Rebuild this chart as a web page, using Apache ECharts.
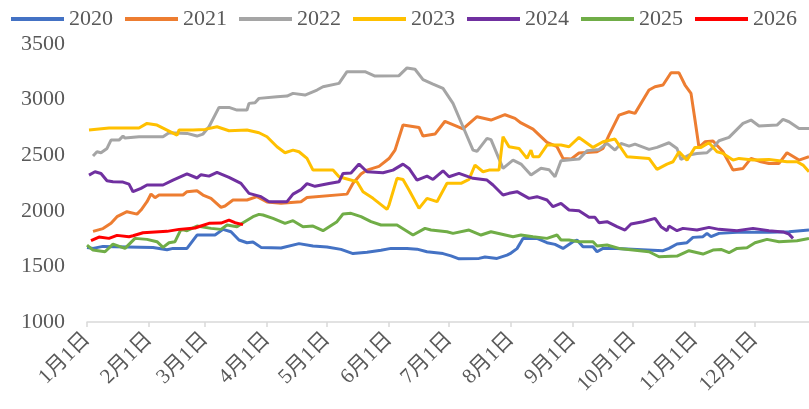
<!DOCTYPE html>
<html>
<head>
<meta charset="utf-8">
<script src="https://cdn.jsdelivr.net/npm/echarts@6/dist/echarts.min.js"></script>
<style>html,body{margin:0;padding:0;background:#fff}#c{width:809px;height:409px}</style>
</head>
<body>
<div id="c"></div>
<script>
// x = day of year (0 = 1月1日)
var monthStarts = [0, 31, 59, 90, 120, 151, 181, 212, 243, 273, 304, 334];
var monthLabels = ['1月1日','2月1日','3月1日','4月1日','5月1日','6月1日','7月1日','8月1日','9月1日','10月1日','11月1日','12月1日'];
var yTicks = [1000, 1500, 2000, 2500, 3000, 3500];
var seriesNames = ['2020','2021','2022','2023','2024','2025','2026'];
var seriesColors = ['#4472C4','#ED7D31','#A5A5A5','#FFC000','#7030A0','#70AD47','#FF0000'];

var s2020 = [[0,1670],[3,1662],[8,1680],[20,1675],[33,1670],[40,1650],[43,1662],[50,1662],[55,1782],[64,1782],[68,1833],[72,1812],[76,1737],[80,1713],[83,1720],[87,1671],[97,1665],[106,1705],[113,1683],[120,1675],[127,1653],[133,1615],[140,1628],[147,1645],[152,1662],[160,1660],[165,1655],[170,1632],[178,1615],[182,1595],[186,1568],[196,1572],[199,1585],[205,1572],[210,1602],[212,1620],[215,1660],[218,1750],[225,1752],[230,1713],[234,1698],[238,1662],[243,1722],[245,1737],[248,1677],[253,1677],[255,1632],[258,1662],[265,1662],[275,1653],[288,1641],[291,1662],[295,1701],[300,1713],[303,1761],[308,1767],[310,1797],[312,1767],[316,1797],[325,1806],[341,1806],[351,1812],[361,1827]];
var s2021 = [[3,1815],[8,1840],[12,1887],[15,1947],[20,1992],[25,1970],[27,2007],[30,2082],[32,2151],[34,2118],[36,2142],[48,2142],[50,2172],[55,2181],[58,2142],[62,2112],[67,2031],[69,2043],[73,2097],[80,2097],[85,2127],[90,2080],[97,2067],[107,2082],[110,2120],[130,2150],[133,2247],[137,2330],[140,2366],[146,2400],[151,2470],[154,2546],[158,2771],[166,2750],[168,2672],[174,2690],[179,2805],[188,2737],[195,2846],[202,2816],[209,2864],[214,2831],[217,2790],[223,2735],[230,2615],[235,2576],[238,2471],[242,2465],[246,2520],[255,2531],[258,2561],[261,2681],[266,2861],[271,2891],[274,2876],[281,3086],[284,3116],[288,3131],[292,3241],[296,3241],[299,3131],[302,3056],[304,2816],[306,2570],[309,2621],[313,2627],[318,2531],[323,2366],[328,2381],[332,2471],[337,2441],[341,2426],[346,2426],[350,2522],[356,2456],[361,2486]];
var s2022 = [[3,2492],[5,2531],[7,2522],[10,2561],[12,2636],[16,2636],[18,2672],[19,2654],[26,2666],[38,2666],[41,2702],[50,2696],[55,2672],[58,2690],[61,2756],[66,2930],[71,2930],[75,2906],[80,2906],[81,2966],[84,2972],[86,3011],[95,3026],[100,3032],[103,3056],[109,3041],[115,3086],[118,3116],[126,3146],[130,3251],[139,3251],[144,3212],[156,3215],[160,3285],[164,3273],[168,3180],[173,3140],[178,3101],[183,2966],[188,2756],[193,2546],[195,2535],[200,2651],[202,2640],[208,2382],[213,2456],[217,2420],[222,2321],[227,2382],[231,2370],[234,2306],[237,2450],[243,2462],[246,2465],[250,2540],[256,2552],[260,2606],[264,2546],[267,2606],[271,2582],[274,2600],[281,2552],[285,2570],[291,2612],[295,2561],[297,2462],[301,2501],[305,2516],[310,2522],[313,2570],[316,2630],[321,2660],[328,2786],[332,2816],[336,2762],[345,2771],[348,2822],[351,2801],[356,2741],[361,2741]];
var s2023 = [[1,2726],[6,2735],[11,2744],[26,2744],[30,2786],[35,2771],[40,2726],[45,2681],[46,2726],[53,2726],[59,2732],[65,2756],[71,2720],[80,2726],[86,2702],[90,2666],[95,2576],[99,2522],[103,2546],[106,2531],[110,2471],[113,2366],[123,2366],[126,2306],[135,2261],[138,2172],[143,2112],[150,2013],[151,2052],[155,2292],[158,2282],[161,2187],[166,2022],[170,2112],[175,2082],[180,2247],[187,2247],[191,2283],[194,2411],[198,2351],[201,2366],[206,2366],[208,2666],[211,2576],[216,2561],[220,2471],[222,2546],[223,2486],[226,2486],[230,2591],[237,2591],[241,2576],[246,2660],[253,2570],[258,2621],[264,2645],[270,2486],[281,2471],[285,2372],[290,2420],[293,2441],[296,2531],[300,2456],[304,2570],[307,2570],[311,2612],[315,2531],[318,2516],[323,2456],[326,2471],[333,2456],[341,2462],[350,2441],[355,2441],[358,2411],[361,2351]];
var s2024 = [[1,2321],[4,2351],[7,2336],[10,2270],[13,2261],[18,2258],[21,2240],[23,2172],[27,2202],[30,2232],[38,2232],[43,2276],[50,2333],[55,2295],[57,2325],[61,2312],[65,2346],[71,2300],[77,2247],[81,2157],[87,2127],[91,2082],[100,2082],[103,2150],[107,2190],[110,2244],[114,2220],[121,2246],[126,2261],[128,2336],[132,2340],[136,2420],[140,2351],[148,2342],[153,2366],[158,2420],[161,2381],[165,2276],[170,2312],[173,2282],[178,2360],[181,2306],[186,2336],[193,2292],[200,2276],[203,2232],[208,2142],[211,2157],[215,2172],[221,2112],[225,2127],[230,2097],[233,2037],[237,2067],[241,2007],[246,2001],[251,1941],[254,1941],[256,1893],[260,1902],[265,1857],[269,1827],[272,1881],[278,1902],[284,1932],[287,1857],[290,1821],[291,1863],[295,1821],[298,1842],[305,1827],[311,1851],[316,1833],[325,1821],[333,1842],[341,1821],[348,1810],[351,1790],[353,1752]];
var s2025 = [[0,1692],[3,1647],[9,1632],[13,1701],[19,1662],[24,1752],[30,1743],[35,1722],[38,1671],[41,1713],[44,1722],[47,1833],[50,1821],[55,1863],[62,1842],[67,1833],[70,1872],[75,1857],[78,1893],[83,1947],[86,1968],[88,1962],[93,1932],[99,1887],[103,1911],[108,1857],[113,1863],[118,1821],[125,1902],[128,1971],[132,1977],[137,1947],[142,1902],[147,1872],[155,1872],[163,1782],[169,1842],[172,1827],[180,1812],[183,1797],[191,1827],[197,1782],[202,1812],[213,1767],[217,1782],[223,1767],[230,1752],[235,1782],[237,1737],[241,1737],[246,1722],[253,1722],[255,1683],[260,1692],[266,1662],[281,1632],[286,1587],[287,1602],[295,1593],[301,1641],[308,1611],[313,1647],[317,1653],[321,1623],[325,1662],[330,1668],[334,1713],[340,1743],[346,1722],[355,1731],[361,1752]];
var s2026 = [[2,1731],[6,1764],[11,1752],[15,1779],[21,1767],[23,1776],[28,1803],[40,1815],[46,1833],[54,1845],[57,1863],[61,1887],[67,1890],[71,1917],[74,1893],[78,1876]];

var allData = [s2020, s2021, s2022, s2023, s2024, s2025, s2026];
var FONT = "'Liberation Serif', 'Noto Sans CJK JP', serif";

var chart = echarts.init(document.getElementById('c'), null, {renderer: 'canvas'});
chart.setOption({
  animation: false,
  backgroundColor: '#ffffff',
  legend: {
    data: seriesNames,
    left: 11, top: 8, width: 798, padding: 0,
    icon: 'rect', itemWidth: 53, itemHeight: 4, itemGap: 12,
    textStyle: {fontFamily: FONT, fontSize: 22, color: '#595959'}
  },
  grid: {left: 87, right: 0, top: 44, bottom: 87, containLabel: false},
  xAxis: {
    type: 'value', min: 0, max: 361,
    splitLine: {show: false},
    axisLine: {show: true, lineStyle: {color: '#d9d9d9', width: 1.5}},
    axisTick: {show: true, customValues: monthStarts, length: 5, lineStyle: {color: '#d9d9d9', width: 1.5}},
    axisLabel: {
      customValues: monthStarts, rotate: 45, margin: 14,
      fontFamily: FONT, fontSize: 21, color: '#595959',
      formatter: function (v) { var i = monthStarts.indexOf(Math.round(v)); return i >= 0 ? monthLabels[i] : ''; }
    }
  },
  yAxis: {
    type: 'value', min: yTicks[0], max: yTicks[yTicks.length - 1], interval: 500,
    splitLine: {show: false},
    axisLine: {show: false}, axisTick: {show: false},
    axisLabel: {margin: 22, fontFamily: FONT, fontSize: 22, color: '#595959',
      formatter: function (v) { return String(v); }}
  },
  series: seriesNames.map(function (n, i) {
    return {
      name: n, type: 'line', data: allData[i], showSymbol: false, symbol: 'none',
      lineStyle: {color: seriesColors[i], width: 3}, itemStyle: {color: seriesColors[i]},
      z: 2 + i
    };
  })
});
</script>
</body>
</html>
